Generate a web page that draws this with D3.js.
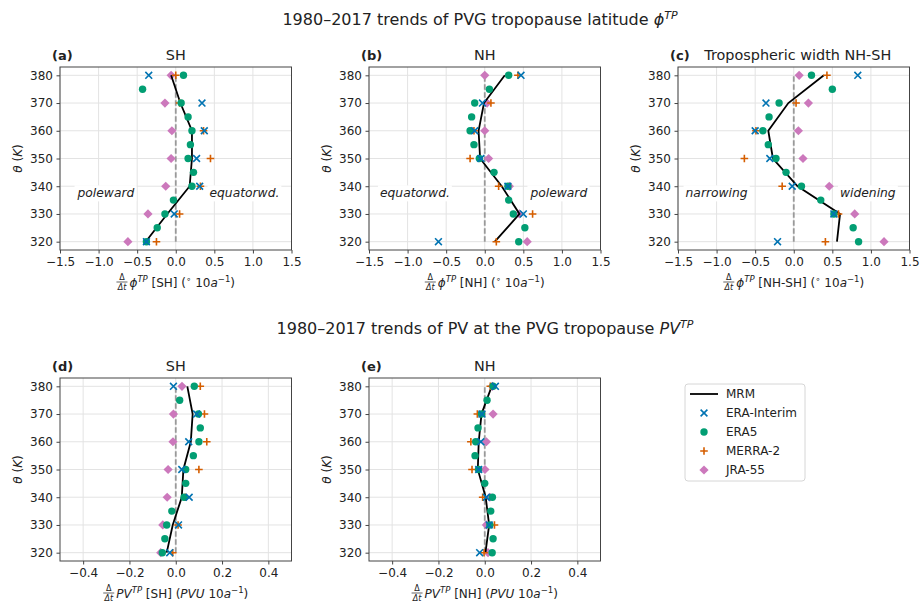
<!DOCTYPE html>
<html>
<head>
<meta charset="utf-8">
<script src="https://cdn.jsdelivr.net/npm/d3@7"></script>
<style>
  body { margin: 0; background: #fff; }
  svg { font-family: "DejaVu Sans", sans-serif; }
</style>
</head>
<body>
<svg width="920" height="603"></svg>
<script>
// theta levels
const levels10 = [320, 330, 340, 350, 360, 370, 380];
const levels5 = [320, 325, 330, 335, 340, 345, 350, 355, 360, 365, 370, 375, 380];

// (a) latitude trend SH
const latSH_mrm = [-0.39, -0.11, 0.18, 0.21, 0.21, 0.06, -0.06];
const latSH_eraI = [-0.38, -0.02, 0.31, 0.27, 0.37, 0.34, -0.35];
const latSH_era5 = [-0.38, -0.24, -0.14, -0.03, 0.21, 0.23, 0.16, 0.19, 0.21, 0.16, 0.07, -0.43, 0.10];
const latSH_merra = [-0.25, 0.05, 0.32, 0.45, 0.36, 0.05, 0.0];
const latSH_jra = [-0.62, -0.36, -0.13, -0.06, -0.05, -0.14, -0.06];

// (b) latitude trend NH
const latNH_mrm = [0.13, 0.45, 0.22, -0.06, -0.08, -0.01, 0.26];
const latNH_eraI = [-0.60, 0.50, 0.30, -0.05, -0.13, -0.03, 0.47];
const latNH_era5 = [0.44, 0.52, 0.37, 0.31, 0.30, 0.12, -0.07, -0.14, -0.19, -0.17, -0.13, 0.06, 0.31];
const latNH_merra = [0.15, 0.62, 0.18, -0.19, -0.14, 0.08, 0.43];
const latNH_jra = [0.55, 0.45, 0.32, 0.05, 0.0, 0.03, 0.0];

// (c) tropospheric width NH-SH
const width_mrm = [0.56, 0.60, 0.05, -0.27, -0.33, -0.07, 0.39];
const width_eraI = [-0.21, 0.52, -0.02, -0.31, -0.50, -0.36, 0.83];
const width_era5 = [0.84, 0.77, 0.52, 0.35, 0.10, -0.10, -0.23, -0.33, -0.40, -0.32, -0.19, 0.50, 0.23];
const width_merra = [0.41, 0.58, -0.15, -0.64, -0.49, 0.03, 0.43];
const width_jra = [1.17, 0.79, 0.46, 0.12, 0.06, 0.19, 0.07];

// (d) PV trend SH
const pvSH_mrm = [-0.039, -0.013, 0.026, 0.033, 0.065, 0.073, 0.05];
const pvSH_eraI = [-0.026, 0.012, 0.058, 0.026, 0.056, 0.09, -0.01];
const pvSH_era5 = [-0.058, -0.047, -0.039, -0.017, 0.036, 0.043, 0.043, 0.076, 0.10, 0.106, 0.098, 0.017, 0.08];
const pvSH_merra = [-0.013, 0.01, 0.042, 0.10, 0.134, 0.124, 0.106];
const pvSH_jra = [-0.065, -0.056, -0.037, -0.033, -0.012, -0.01, 0.027];

// (e) PV trend NH
const pvNH_mrm = [0.003, 0.019, 0.004, -0.03, -0.026, -0.014, 0.03];
const pvNH_eraI = [-0.022, 0.019, 0.007, -0.026, -0.017, -0.012, 0.046];
const pvNH_era5 = [0.032, 0.036, 0.022, 0.026, 0.033, 0.0, -0.027, -0.042, -0.039, -0.029, -0.014, 0.01, 0.036];
const pvNH_merra = [-0.003, 0.042, -0.009, -0.055, -0.06, -0.032, 0.024];
const pvNH_jra = [0.014, 0.007, 0.022, 0.001, 0.007, 0.036, 0.033];

const latTicks = [-1.5, -1.0, -0.5, 0.0, 0.5, 1.0, 1.5];
const pvTicks = [-0.4, -0.2, 0.0, 0.2, 0.4];
const thetaTicks = [320, 330, 340, 350, 360, 370, 380];

const colors = { eraI: "#0173B2", era5: "#029E73", merra: "#D55E00", jra: "#CC78BC" };
const legendNames = ["MRM", "ERA-Interim", "ERA5", "MERRA-2", "JRA-55"];

const svg = d3.select("svg");
const W = 231.5, H = 183;
const spine = "#444", txt = "#222", grid = "#e3e3e3";
const FS = 12;

const panels = [
  { tag: "(a)", title: "SH", left: 60, top: 67, xdom: [-1.5, 1.5], ticks: latTicks, kind: "lat", region: "SH",
    mrm: latSH_mrm, eraI: latSH_eraI, era5: latSH_era5, merra: latSH_merra, jra: latSH_jra,
    ann: [["poleward", -0.905], ["equatorwd.", 0.89]] },
  { tag: "(b)", title: "NH", left: 369, top: 67, xdom: [-1.5, 1.5], ticks: latTicks, kind: "lat", region: "NH",
    mrm: latNH_mrm, eraI: latNH_eraI, era5: latNH_era5, merra: latNH_merra, jra: latNH_jra,
    ann: [["equatorwd.", -0.905], ["poleward", 0.96]] },
  { tag: "(c)", title: "Tropospheric width NH-SH", left: 678, top: 67, xdom: [-1.5, 1.5], ticks: latTicks, kind: "lat", region: "NH-SH",
    mrm: width_mrm, eraI: width_eraI, era5: width_era5, merra: width_merra, jra: width_jra,
    ann: [["narrowing", -1.0], ["widening", 0.96]] },
  { tag: "(d)", title: "SH", left: 60, top: 378, xdom: [-0.5, 0.5], ticks: pvTicks, kind: "pv", region: "SH",
    mrm: pvSH_mrm, eraI: pvSH_eraI, era5: pvSH_era5, merra: pvSH_merra, jra: pvSH_jra, ann: [] },
  { tag: "(e)", title: "NH", left: 369, top: 378, xdom: [-0.5, 0.5], ticks: pvTicks, kind: "pv", region: "NH",
    mrm: pvNH_mrm, eraI: pvNH_eraI, era5: pvNH_era5, merra: pvNH_merra, jra: pvNH_jra, ann: [] },
];

const fmt = d3.format(".1f");
function minus(s) { return s.replace("-", "\u2212"); }

// marker drawers
function drawX(g, x, y, c) {
  const s = 3.4;
  g.append("path").attr("d", `M${x - s},${y - s}L${x + s},${y + s}M${x - s},${y + s}L${x + s},${y - s}`)
    .attr("stroke", c).attr("stroke-width", 1.6).attr("fill", "none");
}
function drawPlus(g, x, y, c) {
  const s = 3.8;
  g.append("path").attr("d", `M${x - s},${y}L${x + s},${y}M${x},${y - s}L${x},${y + s}`)
    .attr("stroke", c).attr("stroke-width", 1.6).attr("fill", "none");
}
function drawCircle(g, x, y, c) {
  g.append("circle").attr("cx", x).attr("cy", y).attr("r", 3.7).attr("fill", c);
}
function drawDiamond(g, x, y, c) {
  const s = 4.6;
  g.append("path").attr("d", `M${x},${y - s}L${x + s},${y}L${x},${y + s}L${x - s},${y}Z`).attr("fill", c);
}

// x label with a small d/dt fraction in front
function xLabel(cx, baseline, parts) {
  const g = svg.append("g");
  const frac = g.append("g");
  frac.append("text").attr("x", 0).attr("y", baseline - 7.5).attr("font-size", 8).attr("text-anchor", "middle").attr("fill", txt).text("\u0394");
  frac.append("text").attr("x", 0).attr("y", baseline + 3).attr("font-size", 8).attr("text-anchor", "middle").attr("fill", txt).text("\u0394t").attr("font-style", "italic");
  frac.append("line").attr("x1", -5.5).attr("x2", 5.5).attr("y1", baseline - 5).attr("y2", baseline - 5).attr("stroke", txt).attr("stroke-width", 0.7);
  const t = g.append("text").attr("y", baseline - 0.5).attr("font-size", FS).attr("fill", txt);
  let up = false;
  parts.forEach(p => {
    const ts = t.append("tspan").text(p.t);
    if (p.i) ts.attr("font-style", "italic");
    if (p.sup && !up) { ts.attr("dy", -5).attr("font-size", 8.5); up = true; }
    else if (p.sup) { ts.attr("font-size", 8.5); }
    else if (up) { ts.attr("dy", 5); up = false; }
  });
  const tw = t.node().getComputedTextLength();
  const total = 13 + tw;
  const x0 = cx - total / 2;
  frac.attr("transform", `translate(${x0 + 5.5},0)`);
  t.attr("x", x0 + 13);
}

panels.forEach(p => {
  const x = d3.scaleLinear().domain(p.xdom).range([0, W]);
  const y = d3.scaleLinear().domain([317, 383]).range([H, 0]);
  const g = svg.append("g").attr("transform", `translate(${p.left},${p.top})`);

  // grid
  g.append("g").selectAll("line").data(p.ticks).join("line")
    .attr("x1", d => x(d)).attr("x2", d => x(d)).attr("y1", 0).attr("y2", H)
    .attr("stroke", grid).attr("stroke-width", 1);
  g.append("g").selectAll("line").data(thetaTicks).join("line")
    .attr("y1", d => y(d)).attr("y2", d => y(d)).attr("x1", 0).attr("x2", W)
    .attr("stroke", grid).attr("stroke-width", 1);

  // annotations with white box
  p.ann.forEach(a => {
    const t = g.append("text").attr("x", x(a[1])).attr("y", y(337.6) + 4.5)
      .attr("text-anchor", "middle").attr("font-size", 12.3).attr("font-style", "italic").attr("fill", txt).text(a[0]);
    const bb = t.node().getBBox();
    g.insert("rect", "text").attr("x", bb.x - 2).attr("y", bb.y - 1).attr("width", bb.width + 4).attr("height", bb.height + 2).attr("fill", "#fff");
  });

  // zero line
  g.append("line").attr("x1", x(0)).attr("x2", x(0)).attr("y1", y(320)).attr("y2", y(380))
    .attr("stroke", "#999").attr("stroke-width", 1.8).attr("stroke-dasharray", "5.5,2.5");

  // axes
  const xa = g.append("g").attr("transform", `translate(0,${H})`)
    .call(d3.axisBottom(x).tickValues(p.ticks).tickSize(3.5).tickPadding(3.5).tickFormat(d => minus(fmt(d))));
  const ya = g.append("g")
    .call(d3.axisLeft(y).tickValues(thetaTicks).tickSize(3.5).tickPadding(3.5));
  [xa, ya].forEach(a => {
    a.select(".domain").remove();
    a.selectAll(".tick line").attr("stroke", spine);
    a.selectAll("text").attr("font-size", FS).attr("fill", txt).attr("font-family", "DejaVu Sans");
  });

  // markers
  levels10.forEach((l, i) => drawDiamond(g, x(p.jra[i]), y(l), colors.jra));
  g.append("path").datum(levels10)
    .attr("d", d3.line().x((l, i) => x(p.mrm[i])).y(l => y(l)))
    .attr("fill", "none").attr("stroke", "#000").attr("stroke-width", 1.8);
  levels10.forEach((l, i) => drawPlus(g, x(p.merra[i]), y(l), colors.merra));
  levels5.forEach((l, i) => drawCircle(g, x(p.era5[i]), y(l), colors.era5));
  levels10.forEach((l, i) => drawX(g, x(p.eraI[i]), y(l), colors.eraI));

  // frame
  g.append("rect").attr("width", W).attr("height", H).attr("fill", "none").attr("stroke", spine).attr("stroke-width", 1);

  // titles
  g.append("text").attr("x", -8).attr("y", -7).attr("font-size", 13).attr("font-weight", "bold").attr("fill", txt).text(p.tag);
  g.append("text").attr("x", p.tag === "(c)" ? W / 2 + 4 : W / 2).attr("y", -7).attr("text-anchor", "middle").attr("font-size", 14.4).attr("fill", txt).text(p.title);

  // y label
  const yl = svg.append("text").attr("transform", `translate(${p.left - 38},${p.top + H / 2}) rotate(-90)`)
    .attr("text-anchor", "middle").attr("font-size", FS).attr("fill", txt);
  yl.append("tspan").attr("font-style", "italic").text("\u03b8");
  yl.append("tspan").text(" (");
  yl.append("tspan").attr("font-style", "italic").text("K");
  yl.append("tspan").text(")");

  // x label
  const base = p.top + H + 37;
  if (p.kind === "lat") {
    xLabel(p.left + W / 2, base, [
      { t: "\u03d5", i: true }, { t: "TP", i: true, sup: true }, { t: ` [${p.region}] (` },
      { t: "\u2218", sup: true }, { t: " 10" }, { t: "a", i: true }, { t: "\u22121", sup: true }, { t: ")" }
    ]);
  } else {
    xLabel(p.left + W / 2, base, [
      { t: "PV", i: true }, { t: "TP", i: true, sup: true }, { t: ` [${p.region}] (` },
      { t: "PVU", i: true }, { t: " 10" }, { t: "a", i: true }, { t: "\u22121", sup: true }, { t: ")" }
    ]);
  }
});

// super titles
const st1 = svg.append("text").attr("x", 480).attr("y", 25).attr("text-anchor", "middle").attr("font-size", 16).attr("fill", txt);
st1.append("tspan").text("1980\u20132017 trends of PVG tropopause latitude ");
st1.append("tspan").attr("font-style", "italic").text("\u03d5");
st1.append("tspan").attr("font-style", "italic").attr("font-size", 11).attr("dy", -6.5).text("TP");
const st2 = svg.append("text").attr("x", 485).attr("y", 334).attr("text-anchor", "middle").attr("font-size", 16).attr("fill", txt);
st2.append("tspan").text("1980\u20132017 trends of PV at the PVG tropopause ");
st2.append("tspan").attr("font-style", "italic").text("PV");
st2.append("tspan").attr("font-style", "italic").attr("font-size", 11).attr("dy", -6.5).text("TP");

// legend
const lg = svg.append("g").attr("transform", "translate(685,384)");
lg.append("rect").attr("width", 120).attr("height", 97).attr("rx", 3).attr("fill", "#fff").attr("stroke", "#d6d6d6");
legendNames.forEach((name, i) => {
  const cy = 10 + i * 19;
  if (i === 0) lg.append("line").attr("x1", 5).attr("x2", 33).attr("y1", cy).attr("y2", cy).attr("stroke", "#000").attr("stroke-width", 1.8);
  if (i === 1) drawX(lg, 19, cy, colors.eraI);
  if (i === 2) drawCircle(lg, 19, cy, colors.era5);
  if (i === 3) drawPlus(lg, 19, cy, colors.merra);
  if (i === 4) drawDiamond(lg, 19, cy, colors.jra);
  lg.append("text").attr("x", 41).attr("y", cy + 4.3).attr("font-size", FS).attr("fill", txt).text(name);
});
</script>
</body>
</html>
